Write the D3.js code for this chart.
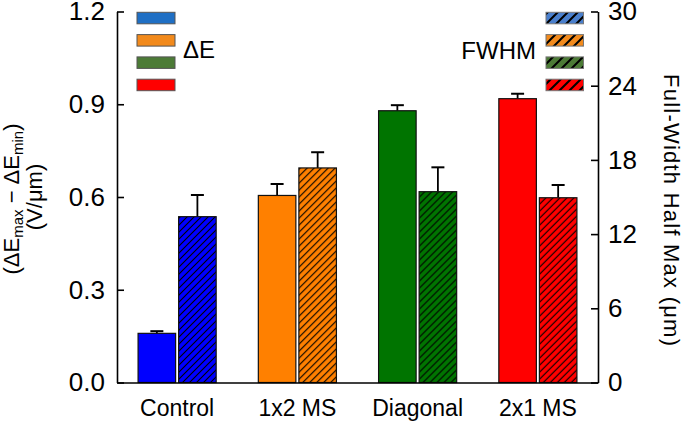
<!DOCTYPE html>
<html>
<head>
<meta charset="utf-8">
<script src="https://cdn.jsdelivr.net/npm/d3@7/dist/d3.min.js"></script>
<style>
  html, body { margin: 0; padding: 0; background: #fff; }
  svg { display: block; font-family: "Liberation Sans", Arial, sans-serif; }
</style>
</head>
<body>
<svg id="chart" width="685" height="421"></svg>
<script>
// ---- data ----
const categories = ["Control", "1x2 MS", "Diagonal", "2x1 MS"];
const deltaE = [0.159, 0.605, 0.879, 0.918];
const deltaEErr = [0.007, 0.037, 0.018, 0.016];
const fwhm = [13.41, 17.35, 15.43, 14.94];
const fwhmErr = [1.75, 1.27, 1.97, 1.03];
const leftTicks = [0, 0.3, 0.6, 0.9, 1.2];
const rightTicks = [0, 6, 12, 18, 24, 30];
const barColors = ["#0000ff", "#ff8000", "#007400", "#ff0000"];
const legendColors = ["#1f6fc4", "#f28a1c", "#4c7b36", "#ff0000"];
const legendHatchColors = ["#4a7fcc", "#f28a1c", "#4c7b36", "#ff0000"];
const seriesKeys = ["dE", "fwhm"];

// ---- layout ----
const svg = d3.select("#chart");
const xL = 117, xR = 598, yT = 11.5, yB = 382.5;

const x = d3.scaleBand().domain(categories).range([xL, xR]).padding(0);
const xi = d3.scaleBand().domain(seriesKeys).range([0, x.bandwidth()])
  .paddingInner(0.074).paddingOuter(0.52);
const yLeft = d3.scaleLinear().domain([0, 1.2]).range([yB, yT]);
const yRight = d3.scaleLinear().domain([0, 30]).range([yB, yT]);

// ---- patterns ----
const defs = svg.append("defs");
barColors.forEach((c, i) => {
  const p = defs.append("pattern").attr("id", "hatch" + i)
    .attr("patternUnits", "userSpaceOnUse").attr("width", 7).attr("height", 7);
  p.append("rect").attr("width", 7).attr("height", 7).attr("fill", c);
  p.append("path").attr("d", "M-1,1 l2,-2 M0,7 l7,-7 M6,8 l2,-2")
    .attr("stroke", "#000").attr("stroke-width", 1.1);
});
legendHatchColors.forEach((c, i) => {
  const p = defs.append("pattern").attr("id", "lhatch" + i)
    .attr("patternUnits", "userSpaceOnUse").attr("width", 10).attr("height", 10);
  p.append("rect").attr("width", 10).attr("height", 10).attr("fill", c);
  p.append("path").attr("d", "M-1,1 l2,-2 M0,10 l10,-10 M9,11 l2,-2")
    .attr("stroke", "#000").attr("stroke-width", 2);
});

// ---- bars ----
const groups = svg.append("g").selectAll("g").data(categories).join("g")
  .attr("transform", d => `translate(${x(d)},0)`);

groups.each(function (cat, i) {
  const g = d3.select(this);
  const bw = xi.bandwidth();
  // deltaE bar (left axis)
  const bx = xi("dE");
  const top1 = yLeft(deltaE[i]);
  const cap1 = yLeft(deltaE[i] + deltaEErr[i]);
  g.append("line").attr("x1", bx + bw / 2).attr("x2", bx + bw / 2)
    .attr("y1", top1).attr("y2", cap1).attr("stroke", "#000").attr("stroke-width", 1.8);
  g.append("line").attr("x1", bx + bw / 2 - 6.5).attr("x2", bx + bw / 2 + 6.5)
    .attr("y1", cap1).attr("y2", cap1).attr("stroke", "#000").attr("stroke-width", 2);
  g.append("rect").attr("x", bx).attr("width", bw)
    .attr("y", top1).attr("height", yB - top1)
    .attr("fill", barColors[i]).attr("stroke", "#111").attr("stroke-width", 1.2);

  // FWHM bar (right axis)
  const hx = xi("fwhm");
  const top2 = yRight(fwhm[i]);
  const cap2 = yRight(fwhm[i] + fwhmErr[i]);
  g.append("line").attr("x1", hx + bw / 2).attr("x2", hx + bw / 2)
    .attr("y1", top2).attr("y2", cap2).attr("stroke", "#000").attr("stroke-width", 1.8);
  g.append("line").attr("x1", hx + bw / 2 - 6.5).attr("x2", hx + bw / 2 + 6.5)
    .attr("y1", cap2).attr("y2", cap2).attr("stroke", "#000").attr("stroke-width", 2);
  g.append("rect").attr("x", hx).attr("width", bw)
    .attr("y", top2).attr("height", yB - top2)
    .attr("fill", `url(#hatch${i})`).attr("stroke", "#111").attr("stroke-width", 1.2);
});

// ---- axes ----
const axL = svg.append("g").attr("transform", `translate(${xL},0)`)
  .call(d3.axisLeft(yLeft).tickValues(leftTicks).tickFormat(d3.format(".1f"))
    .tickSizeInner(-7).tickSizeOuter(0).tickPadding(12));
const axR = svg.append("g").attr("transform", `translate(${xR},0)`)
  .call(d3.axisRight(yRight).tickValues(rightTicks).tickFormat(d3.format("d"))
    .tickSizeInner(-7).tickSizeOuter(0).tickPadding(10));
const axB = svg.append("g").attr("transform", `translate(0,${yB})`)
  .call(d3.axisBottom(x).tickSize(0).tickPadding(17));

[axL, axR].forEach(a => {
  a.selectAll("text").attr("font-size", 26).attr("fill", "#000")
    .attr("font-family", "Liberation Sans, Arial, sans-serif");
});
axB.selectAll("text").attr("font-size", 23).attr("fill", "#000")
  .attr("font-family", "Liberation Sans, Arial, sans-serif");
svg.selectAll(".domain").attr("stroke", "#000").attr("stroke-width", 1.6);
svg.selectAll(".tick line").attr("stroke", "#000").attr("stroke-width", 1.6);
axB.selectAll(".tick line").remove();

// ---- axis titles ----
const lt = svg.append("text")
  .attr("transform", `translate(19,199) rotate(-90)`)
  .attr("text-anchor", "middle").attr("font-size", 22).attr("fill", "#000");
lt.append("tspan").text("(ΔE");
lt.append("tspan").attr("font-size", 15).attr("dy", 4).text("max");
lt.append("tspan").attr("dy", -4).text(" − ΔE");
lt.append("tspan").attr("font-size", 15).attr("dy", 4).text("min");
lt.append("tspan").attr("dy", -4).text(")");

svg.append("text")
  .attr("transform", `translate(42,197) rotate(-90)`)
  .attr("text-anchor", "middle").attr("font-size", 22).attr("fill", "#000")
  .text("(V/μm)");

svg.append("text")
  .attr("transform", `translate(664,210) rotate(90)`)
  .attr("text-anchor", "middle").attr("font-size", 22).attr("fill", "#000")
  .attr("textLength", 272).attr("lengthAdjust", "spacing")
  .text("Full-Width Half Max  (μm)");

// ---- legends ----
const legY = d3.range(4).map(k => 12.3 + k * 22.3);
svg.append("g").selectAll("rect").data(legendColors).join("rect")
  .attr("x", 137).attr("y", (d, k) => legY[k]).attr("width", 38).attr("height", 11.5)
  .attr("fill", d => d).attr("stroke", "#555").attr("stroke-width", 1);
svg.append("text").attr("x", 183).attr("y", 58).attr("font-size", 24).attr("fill", "#000").text("ΔE");

svg.append("g").selectAll("rect").data(legendHatchColors).join("rect")
  .attr("x", 546).attr("y", (d, k) => legY[k]).attr("width", 37.5).attr("height", 11.5)
  .attr("fill", (d, k) => `url(#lhatch${k})`).attr("stroke", "#777").attr("stroke-width", 1);
svg.append("text").attr("x", 536).attr("y", 59).attr("text-anchor", "end")
  .attr("font-size", 24).attr("fill", "#000").text("FWHM");
</script>
</body>
</html>
